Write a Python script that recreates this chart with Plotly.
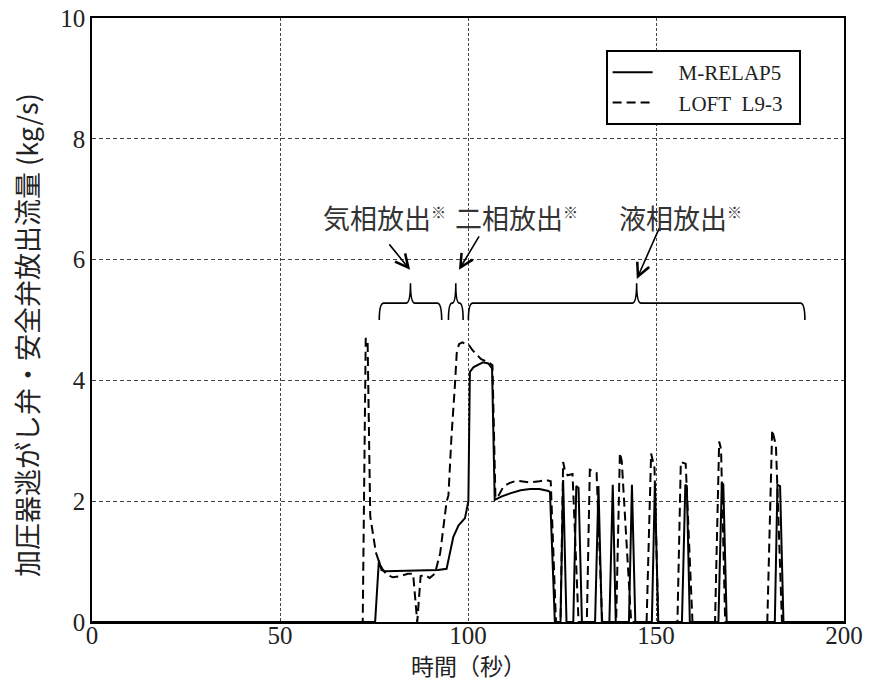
import plotly.graph_objects as go

# ---- data ----
relap_t = [0, 75.3, 76.3, 77.0, 78.0, 85.0, 92.0, 94.3, 95.2, 96.1, 97.5, 99.2, 100.1, 100.5,
           101.5, 102.8, 104.0, 105.4, 106.1, 106.4, 107.1, 109.0, 111.2, 114.0, 116.5, 119.0,
           121.4, 121.8, 123.1,
           124.6, 125.3, 126.2,
           128.0, 128.8, 129.4, 130.3,
           133.8, 134.7, 135.6,
           137.6, 138.5, 139.3,
           142.8, 143.6, 144.5,
           148.9, 149.7, 150.6,
           156.9, 157.8, 158.2, 159.0,
           166.6, 167.5, 167.9, 168.8,
           181.6, 182.3, 183.0, 183.9,
           200]
relap_v = [0, 0, 1.02, 0.86, 0.84, 0.85, 0.86, 0.88, 1.15, 1.41, 1.60, 1.72, 2.00, 4.14,
           4.22, 4.26, 4.30, 4.28, 4.22, 4.20, 2.02, 2.08, 2.13, 2.18, 2.20, 2.20,
           2.17, 2.15, 0,
           0, 2.35, 0,
           0, 2.25, 2.22, 0,
           0, 2.25, 0,
           0, 2.27, 0,
           0, 2.27, 0,
           0, 2.28, 0,
           0, 2.27, 2.25, 0,
           0, 2.30, 2.28, 0,
           0, 2.27, 2.25, 0,
           0]

loft_t = [0, 72.0, 72.8, 73.3, 74.0, 74.4, 75.5, 76.6, 77.5, 78.5, 80.0, 82.0, 84.0, 85.4,
          86.5, 87.4, 88.5, 89.8, 91.2, 92.6, 93.4, 94.3, 94.8, 95.6, 96.5, 97.0, 97.6,
          98.5, 99.5, 100.3, 101.2, 102.3, 103.5, 105.5, 106.5, 107.3, 108.2, 109.4, 111.0,
          112.9, 116.5, 119.0, 120.9, 122.0, 123.4,
          124.6, 125.3, 125.8, 126.5, 127.8, 129.4,
          131.6, 132.4, 133.2, 134.2, 135.7,
          139.4, 140.4, 140.9, 143.4,
          147.5, 148.7, 149.6, 150.6,
          155.7, 156.6, 157.9, 159.7,
          165.7, 166.8, 167.3, 168.4,
          179.6, 180.9, 181.9, 183.5,
          200]
loft_v = [0, 0, 4.70, 4.65, 1.75, 1.60, 1.15, 0.95, 0.85, 0.78, 0.74, 0.76, 0.80, 0.80,
          0, 0.76, 0.78, 0.73, 0.80, 1.14, 1.58, 1.99, 2.10, 3.07, 3.90, 4.45, 4.60,
          4.63, 4.60, 4.58, 4.50, 4.42, 4.35, 4.30, 4.25, 2.05, 2.10, 2.24, 2.30,
          2.34, 2.31, 2.33, 2.35, 2.33, 0,
          0, 2.65, 2.50, 2.43, 2.45, 0,
          0, 2.52, 2.50, 2.47, 0,
          0, 2.80, 2.66, 0,
          0, 2.79, 2.55, 0,
          0, 2.65, 2.62, 0,
          0, 2.99, 2.86, 0,
          0, 3.18, 2.92, 0,
          0]

series_names = ["M-RELAP5", "LOFT&nbsp;&nbsp;L9-3"]

x_ticks = [0, 50, 100, 150, 200]
y_ticks = [0, 2, 4, 6, 8, 10]

x_title = "時間（秒）"
y_title = "加圧器逃がし弁・安全弁放出流量 (kg/s)"

# phase brackets: start, end, label
phase_start = [76.4, 94.8, 100.1]
phase_end = [93.0, 98.7, 189.6]
phase_label = ["気相放出", "二相放出", "液相放出"]
label_x = [77.7, 112.8, 156.6]
arrow_head_x = [84.6, 97.6, 144.9]

# ---- figure ----
fig = go.Figure()
lead = "&nbsp;&nbsp;&nbsp;&nbsp;"
trail = "&nbsp;&nbsp;"
fig.add_trace(go.Scatter(x=relap_t, y=relap_v, mode="lines", name=lead + series_names[0] + trail,
                         line=dict(color="black", width=2)))
fig.add_trace(go.Scatter(x=loft_t, y=loft_v, mode="lines", name=lead + series_names[1] + trail,
                         line=dict(color="black", width=2, dash="9px,5px")))

y_low, y_mid, y_top = 5.0, 5.28, 5.61
for x0, x1 in zip(phase_start, phase_end):
    xm = (x0 + x1) / 2
    dx = min(1.2, (x1 - x0) / 4)
    path = (f"M {x0},{y_low} Q {x0},{y_mid} {x0+dx},{y_mid} L {xm-dx},{y_mid} "
            f"Q {xm},{y_mid} {xm},{y_top} Q {xm},{y_mid} {xm+dx},{y_mid} "
            f"L {x1-dx},{y_mid} Q {x1},{y_mid} {x1},{y_low}")
    fig.add_shape(type="path", path=path, xref="x", yref="y",
                  line=dict(color="black", width=1.6))

arrow_tail = [(-22, -27), (21, -35), (23, -52)]
arrow_head_y = [5.83, 5.83, 5.68]
for hx, hy, (ax, ay) in zip(arrow_head_x, arrow_head_y, arrow_tail):
    fig.add_annotation(x=hx, y=hy, xref="x", yref="y", ax=ax, ay=ay, text="",
                       showarrow=True, arrowhead=5, arrowsize=1.6, arrowwidth=1.6,
                       arrowcolor="black")

mark = '<span style="font-family:\'Noto Sans CJK JP\';color:#333;font-size:15px">※</span>'
for lx, txt in zip(label_x, phase_label):
    fig.add_annotation(x=lx, y=6.69, xref="x", yref="y", text=txt + "<sup>" + mark + "</sup>",
                       showarrow=False,
                       font=dict(family="Noto Sans CJK JP", size=27, color="#333"))

# axis titles
fig.add_annotation(x=0.5, y=0, xref="paper", yref="paper", yanchor="middle", yshift=-43,
                   text=x_title, showarrow=False,
                   font=dict(family="Noto Sans CJK JP", size=23, color="#222"))
fig.add_annotation(x=0, y=0.5, xref="paper", yref="paper", xanchor="center", yanchor="middle",
                   xshift=-66, yshift=-15, textangle=-90, text=y_title, showarrow=False,
                   font=dict(family="Noto Sans CJK JP", size=27, color="#222"))

fig.update_xaxes(range=[0, 200], tickvals=x_ticks, showgrid=True, gridcolor="#444",
                 griddash="3px,2px", gridwidth=1, showline=True, linecolor="black",
                 linewidth=1.5, mirror=True, ticks="", zeroline=False, automargin=False,
                 ticklabelstandoff=-10, ticklabeloverflow="allow",
                 tickfont=dict(family="Liberation Serif", size=25, color="#222"))
fig.update_yaxes(range=[0, 10], tickvals=y_ticks, showgrid=True, gridcolor="#444",
                 griddash="4px,3px", gridwidth=1, showline=True, linecolor="black",
                 linewidth=1.5, mirror=True, ticks="", zeroline=False, automargin=False,
                 ticklabeloverflow="allow",
                 tickfont=dict(family="Liberation Serif", size=25, color="#222"))

fig.update_layout(
    width=863, height=692,
    margin=dict(l=84, r=27, t=10, b=78),
    plot_bgcolor="white", paper_bgcolor="white",
    legend=dict(x=0.683, y=0.947, xanchor="left", yanchor="top",
                bgcolor="white", bordercolor="black", borderwidth=2,
                font=dict(family="Liberation Serif", size=21, color="#222"),
                itemwidth=40, tracegroupgap=0),
)

fig.write_html("out.html")
